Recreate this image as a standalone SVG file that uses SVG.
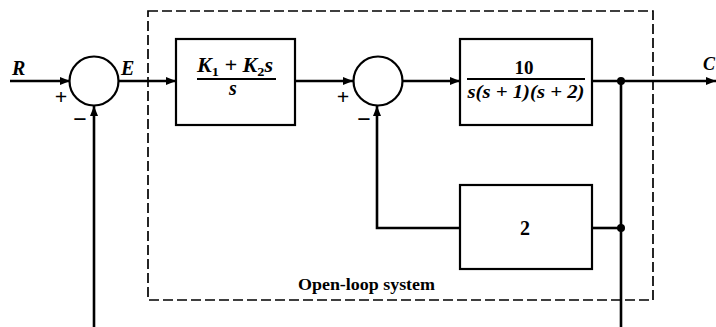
<svg xmlns="http://www.w3.org/2000/svg" width="716" height="327" viewBox="0 0 716 327">
<defs>
<marker id="arr" viewBox="0 0 10 8" refX="10" refY="4" markerWidth="11" markerHeight="8" markerUnits="userSpaceOnUse" orient="auto">
<path d="M0,0 L10,4 L0,8 Z" fill="#000"/>
</marker>
<style>
.blk{fill:#fff;stroke:#000;stroke-width:2.2}
.sum{fill:#fff;stroke:#000;stroke-width:2.2}
.ln{fill:none;stroke:#000;stroke-width:2.6}
.dash{fill:none;stroke:#000;stroke-width:1.7;stroke-dasharray:10,4}
.m{font-family:"Liberation Serif","Times New Roman",serif;font-weight:bold;font-style:italic;fill:#000}
.r{font-family:"Liberation Serif","Times New Roman",serif;font-weight:bold;fill:#000}
.sg{font-family:"Liberation Serif","Times New Roman",serif;font-weight:bold;fill:#000}
</style>
</defs>
<rect width="716" height="327" fill="#fff"/>
<g id="openloop-box">
<rect class="dash" x="148" y="11" width="505" height="289"/>
<text class="r" x="298" y="290" font-size="16" textLength="137" lengthAdjust="spacingAndGlyphs">Open-loop system</text>
</g>
<g id="connectors">
<line class="ln" x1="10" y1="81" x2="70" y2="81" marker-end="url(#arr)"/>
<line class="ln" x1="119" y1="81" x2="176" y2="81" marker-end="url(#arr)"/>
<line class="ln" x1="295" y1="81" x2="353" y2="81" marker-end="url(#arr)"/>
<line class="ln" x1="403" y1="81" x2="460" y2="81" marker-end="url(#arr)"/>
<line class="ln" x1="592" y1="81" x2="716" y2="81" marker-end="url(#arr)"/>
<polyline class="ln" points="621,81 621,327"/>
<line class="ln" x1="592" y1="228" x2="621" y2="228"/>
<polyline class="ln" points="460,228 377,228 377,106" marker-end="url(#arr)"/>
<line class="ln" x1="94" y1="327" x2="94" y2="106" marker-end="url(#arr)"/>
<circle cx="621" cy="81" r="4" fill="#000"/>
<circle cx="621" cy="228" r="4" fill="#000"/>
</g>
<g id="label-R"><text class="m" x="12" y="75" font-size="20">R</text></g>
<g id="label-E"><text class="m" x="121" y="75" font-size="20">E</text></g>
<g id="label-C"><text class="m" x="703" y="70" font-size="18">C</text></g>
<g id="sum1">
<circle class="sum" cx="94" cy="81" r="24.5"/>
<text class="sg" x="61" y="104" font-size="22" text-anchor="middle">+</text>
<text class="sg" x="80" y="127" font-size="24" text-anchor="middle">−</text>
</g>
<g id="block1">
<rect class="blk" x="176" y="39" width="119" height="86"/>
<text class="m" x="235" y="72" font-size="20" text-anchor="middle" textLength="76" lengthAdjust="spacingAndGlyphs">K<tspan font-style="normal" font-size="13" dy="4">1</tspan><tspan dy="-4"> + K</tspan><tspan font-style="normal" font-size="13" dy="4">2</tspan><tspan dy="-4">s</tspan></text>
<line x1="197" y1="79" x2="276" y2="79" stroke="#000" stroke-width="1.8"/>
<text class="m" x="233" y="95" font-size="20" text-anchor="middle">s</text>
</g>
<g id="sum2">
<circle class="sum" cx="378" cy="81" r="24.5"/>
<text class="sg" x="343" y="104" font-size="22" text-anchor="middle">+</text>
<text class="sg" x="364" y="127" font-size="24" text-anchor="middle">−</text>
</g>
<g id="block2">
<rect class="blk" x="460" y="39" width="132" height="86"/>
<text class="r" x="524" y="74" font-size="19" text-anchor="middle">10</text>
<line x1="467" y1="79" x2="585" y2="79" stroke="#000" stroke-width="1.8"/>
<text class="m" x="526" y="98" font-size="19" text-anchor="middle" textLength="117" lengthAdjust="spacingAndGlyphs">s(s + 1)(s + 2)</text>
</g>
<g id="block3">
<rect class="blk" x="460" y="185" width="132" height="84"/>
<text class="r" x="525" y="235" font-size="20" text-anchor="middle">2</text>
</g>
</svg>
